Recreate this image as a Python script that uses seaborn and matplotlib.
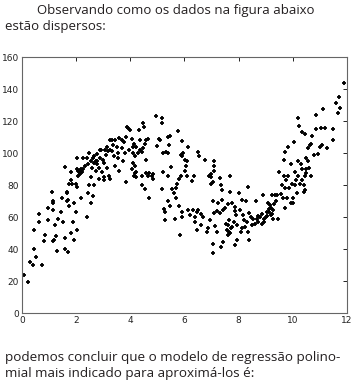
import numpy as np
import matplotlib
matplotlib.use("Agg")
import matplotlib.pyplot as plt
import pandas as pd
import seaborn as sns

# points, split by region of the curve
rise_x = [0.07, 0.21, 0.31, 0.42, 0.46, 0.44, 0.54, 0.64, 0.64, 0.75, 0.83, 0.85, 0.97, 0.97,
          1.13, 1.14, 1.16, 1.14, 1.15, 1.17, 1.24, 1.26, 1.28, 1.34, 1.44, 1.50, 1.53, 1.59,
          1.61, 1.65, 1.68, 1.70, 1.66, 1.71, 1.75, 1.75, 1.80, 1.80, 1.87, 1.92, 1.92, 1.90,
          2.00, 2.04, 1.99, 2.02, 2.08, 2.15, 2.20, 2.20, 2.39, 2.45, 2.49, 2.57, 2.64, 2.67,
          2.73, 2.86, 3.03, 3.23, 3.25]
rise_y = [24, 19.5, 32, 30, 40, 52, 35, 62, 57, 30, 45, 49, 58, 66,
          76, 70, 69, 64.5, 45, 46, 55, 48, 39, 59, 63, 72, 57, 47,
          40, 76, 70, 71, 75, 38, 67, 81, 50, 83, 81, 69, 46, 57,
          81, 79, 63, 52, 89, 87, 90, 72, 60, 75, 80, 69, 73, 80,
          89, 84, 83, 86, 84]

peak_x = [1.61, 1.80, 2.02, 2.10, 2.06, 2.14, 2.22, 2.27, 2.04, 2.27, 2.41, 2.49, 2.54, 2.62,
          2.67, 2.72, 2.76, 2.79, 2.68, 2.78, 2.88, 2.94, 3.07, 3.17, 3.25, 3.32, 2.86, 3.04,
          3.04, 3.13, 3.25, 3.33, 3.44, 3.38, 3.50, 3.54, 3.56, 3.60, 3.68, 3.77, 3.84, 3.88,
          3.93, 4.00, 4.05, 4.09, 4.11, 4.17, 4.15, 4.23, 4.36, 4.30, 4.42, 4.48, 4.55, 4.38,
          4.10, 4.18, 4.08, 4.22, 4.14, 4.33, 4.48, 4.52, 4.58, 4.67, 4.42, 4.60, 4.66, 4.79,
          4.85, 4.57, 3.83, 4.18, 4.23, 4.43, 4.55, 4.68, 4.70, 4.85,
          2.35, 2.45, 2.60, 2.90, 3.00, 3.10, 3.40, 3.70, 3.80, 3.95, 3.45, 3.60, 2.55, 2.95,
          3.15, 3.75]
peak_y = [91.5, 88.5, 90, 89, 86, 87.5, 88.5, 90, 97, 97, 97, 100, 95, 97,
          94, 95, 93.5, 95, 98, 99.5, 102, 102, 102, 101.5, 102, 101.5, 91, 94,
          85, 104, 108, 108.5, 108, 105, 104, 100, 97, 109.5, 108, 107, 110, 116.5,
          116, 114.5, 109, 104, 100, 98, 106, 104, 102, 100, 101, 103, 106, 108,
          94, 92, 90, 88, 86, 114.5, 119, 116.5, 108, 109, 86, 87.5, 85.5, 86,
          87, 96, 82, 87.5, 85, 80, 77.5, 72, 87.5, 84,
          92, 93, 91, 97, 96, 99, 98, 103, 100, 102, 92, 89, 85, 88,
          91, 95]

valley_x = [4.95, 5.16, 5.16, 4.98, 5.05, 5.10, 5.22, 5.32, 5.38, 5.45, 5.40, 5.46, 5.50, 5.75,
            5.88, 5.95, 5.92, 5.93, 6.02, 6.08, 6.05, 6.08, 6.14, 6.50, 6.55, 6.76, 7.10, 7.10,
            7.08, 6.95, 6.99, 7.30, 7.70,
            5.22, 5.19, 5.25, 5.27, 5.30, 5.40, 5.40, 5.47, 5.53, 5.60, 5.65, 5.69, 5.70, 5.73,
            5.80, 5.88, 5.81, 5.84, 5.90, 5.92, 6.02, 6.12, 6.20, 6.27, 6.37, 6.33, 6.39, 6.45,
            6.45, 6.51, 6.63, 6.82, 6.88, 6.95, 7.00, 7.07, 6.90, 6.97, 7.07, 7.10, 7.13, 7.07,
            7.07, 7.25, 7.30, 7.20, 7.37, 7.38, 7.38, 7.44, 7.34, 7.44, 7.56, 7.60, 7.62, 7.68,
            7.68, 7.71, 7.66, 7.75, 7.87, 7.87, 7.87, 7.90, 7.96, 8.03, 8.05, 8.08, 8.11, 8.14,
            8.18, 8.24, 8.28, 8.30, 8.35, 8.36, 8.40, 8.40, 8.49, 8.55, 8.60, 8.64, 8.67, 8.73,
            8.79, 8.85, 8.90, 8.94, 9.00, 9.04, 9.10, 9.13, 9.15, 9.18, 9.22, 9.26, 9.28, 9.35,
            9.43, 9.47,
            7.55, 7.65, 7.75, 7.82, 7.95, 8.20, 8.45, 8.70, 8.85, 8.95, 9.05, 9.12, 9.20, 9.25,
            9.30, 9.40, 6.60, 6.70, 6.40, 7.20, 7.50, 7.60]
valley_y = [123.5, 122, 119, 104.5, 109, 108, 100, 101, 100, 105, 110, 111, 91.5, 114,
            99, 100, 98, 107.5, 96, 95, 92, 86, 104, 101, 98.5, 96, 95, 92,
            89, 86, 85, 84.5, 86,
            88, 77.5, 65, 63, 58, 86, 70, 67, 77.5, 75, 59, 72, 78, 81,
            84, 86, 67, 49, 63.5, 60, 89, 64.5, 61.5, 82.5, 85.5, 64.5, 57, 63.5,
            52, 64.5, 55, 51, 53, 58, 81, 82, 86, 87, 70, 62.5, 54.5, 43.5,
            37.5, 69, 62.5, 51, 80, 77, 71, 64.5, 41.5, 44.5, 52, 55, 49, 76,
            50, 53, 51, 69, 66.5, 64, 42.5, 61.5, 45.5, 75, 64.5, 51, 53, 71,
            61.5, 54, 70, 57, 51, 79, 62.5, 45.5, 55, 59, 56, 70, 59, 57,
            60, 55.5, 74, 59, 60, 63.5, 69, 65, 67.5, 61.5, 74, 59, 64.5, 74,
            74, 59,
            56, 58, 54, 57, 55, 58, 60, 61, 62, 57, 61, 63, 66, 62,
            68, 70, 62, 60, 60, 64, 66, 68]

tail_x = [9.50, 9.56, 9.63, 9.68, 9.72, 9.80, 9.84, 9.88, 9.93, 9.96, 10.00, 10.02, 10.08, 10.12,
          10.15, 10.20, 10.27, 10.33, 10.40, 10.40, 10.46, 10.44, 10.50, 10.67,
          9.66, 9.72, 9.84, 9.93, 10.05, 10.20, 10.25, 10.33, 10.46, 10.30, 10.48, 10.60, 10.48,
          10.55, 10.62, 10.68, 10.70, 10.80, 10.85, 10.86, 10.95, 11.00, 11.07, 11.10, 11.05,
          11.20, 11.26, 11.48, 11.47, 11.60, 11.69, 11.72, 11.75, 11.90,
          9.60, 9.70, 9.75, 10.10, 10.35, 10.55, 10.20]
tail_y = [88, 74.5, 72, 85.5, 66, 72, 85.5, 78, 69, 81, 72, 69, 80, 83,
          75, 85.5, 81, 83.5, 80, 76, 77, 85.5, 87.5, 85.5,
          95.5, 100.5, 104, 93, 107, 122, 117, 113, 112, 93, 90, 91, 97,
          103, 105, 106, 111, 99, 124, 115, 99.5, 104, 105, 127.5, 116,
          116, 103, 115, 108, 131.5, 125, 135, 128.5, 144,
          80, 78, 83, 88, 90, 95, 95]

x_ticks = [0, 2, 4, 6, 8, 10, 12]
y_ticks = [0, 20, 40, 60, 80, 100, 120, 140, 160]

df = pd.DataFrame({
    "x": rise_x + peak_x + valley_x + tail_x,
    "y": rise_y + peak_y + valley_y + tail_y,
})

sns.set_theme(style="white")
plt.rcParams["font.family"] = ["Open Sans", "DejaVu Sans"]

fig = plt.figure(figsize=(3.64, 3.89), dpi=100)
ax = fig.add_axes([0.060, 0.195, 0.893, 0.658])

sns.scatterplot(data=df, x="x", y="y", marker="+", color="black",
                s=11, linewidth=1.3, ax=ax)

ax.set_xlim(0, 12)
ax.set_ylim(0, 160)
ax.set_xticks(x_ticks)
ax.set_yticks(y_ticks)
ax.set_xlabel("")
ax.set_ylabel("")
ax.tick_params(direction="in", length=3, width=0.7, top=True, right=True,
               labelsize=6.5, colors="#222222", pad=2)
for lab in ax.get_xticklabels() + ax.get_yticklabels():
    lab.set_family("DejaVu Sans")
for sp in ax.spines.values():
    sp.set_color("#666666")
    sp.set_linewidth(0.8)

txt = "#231f20"
fig.text(0.102, 0.974, "Observando como os dados na figura abaixo",
         fontsize=9.5, color=txt, va="center", ha="left")
fig.text(0.014, 0.931, "estão dispersos:",
         fontsize=9.5, color=txt, va="center", ha="left")
fig.text(0.014, 0.082, "podemos concluir que o modelo de regressão polino-",
         fontsize=9.7, color=txt, va="center", ha="left")
fig.text(0.014, 0.039, "mial mais indicado para aproximá-los é:",
         fontsize=9.7, color=txt, va="center", ha="left")

fig.savefig("out.png", dpi=100)
